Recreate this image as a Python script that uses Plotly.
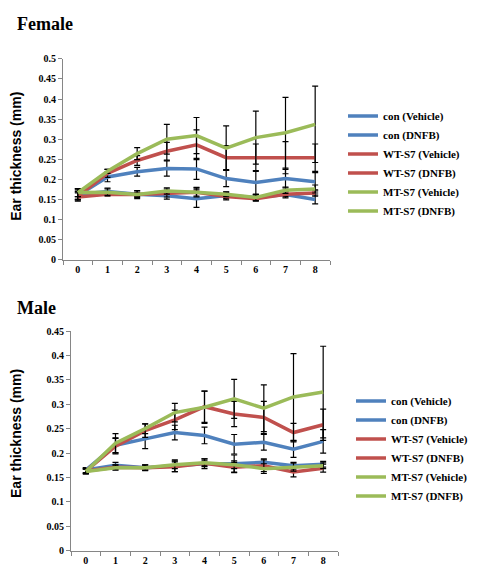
import plotly.graph_objects as go

days = ["0", "1", "2", "3", "4", "5", "6", "7", "8"]
series_names = ["con (Vehicle)", "con (DNFB)", "WT-S7 (Vehicle)", "WT-S7 (DNFB)", "MT-S7 (Vehicle)", "MT-S7 (DNFB)"]
series_colors = ["#4F81BD", "#4F81BD", "#C0504D", "#C0504D", "#9BBB59", "#9BBB59"]

# Female
f_con_veh = [0.162, 0.170, 0.163, 0.159, 0.152, 0.160, 0.155, 0.162, 0.150]
f_con_dnfb = [0.160, 0.206, 0.219, 0.227, 0.226, 0.202, 0.192, 0.202, 0.194]
f_wt_veh = [0.156, 0.163, 0.162, 0.166, 0.168, 0.157, 0.152, 0.163, 0.166]
f_wt_dnfb = [0.158, 0.215, 0.247, 0.270, 0.286, 0.254, 0.254, 0.254, 0.254]
f_mt_veh = [0.167, 0.168, 0.162, 0.171, 0.168, 0.163, 0.155, 0.173, 0.176]
f_mt_dnfb = [0.167, 0.220, 0.264, 0.300, 0.309, 0.278, 0.304, 0.316, 0.337]

f_con_veh_err = [0.012, 0.008, 0.008, 0.008, 0.022, 0.008, 0.007, 0.008, 0.011]
f_con_dnfb_err = [0.010, 0.012, 0.011, 0.019, 0.026, 0.020, 0.030, 0.023, 0.023]
f_wt_veh_err = [0.010, 0.005, 0.005, 0.010, 0.010, 0.008, 0.006, 0.006, 0.008]
f_wt_dnfb_err = [0.010, 0.010, 0.012, 0.022, 0.037, 0.030, 0.034, 0.040, 0.034]
f_mt_veh_err = [0.010, 0.008, 0.010, 0.008, 0.012, 0.006, 0.008, 0.008, 0.010]
f_mt_dnfb_err = [0.010, 0.005, 0.015, 0.037, 0.045, 0.055, 0.066, 0.088, 0.095]

# Male
m_con_veh = [0.165, 0.175, 0.170, 0.174, 0.178, 0.178, 0.181, 0.174, 0.177]
m_con_dnfb = [0.165, 0.216, 0.229, 0.242, 0.236, 0.218, 0.222, 0.208, 0.224]
m_wt_veh = [0.163, 0.171, 0.170, 0.172, 0.179, 0.171, 0.174, 0.161, 0.169]
m_wt_dnfb = [0.163, 0.214, 0.246, 0.268, 0.295, 0.280, 0.273, 0.242, 0.258]
m_mt_veh = [0.162, 0.170, 0.170, 0.176, 0.180, 0.176, 0.168, 0.171, 0.174]
m_mt_dnfb = [0.162, 0.220, 0.250, 0.283, 0.294, 0.311, 0.292, 0.315, 0.325]

m_con_veh_err = [0.005, 0.006, 0.006, 0.012, 0.010, 0.018, 0.007, 0.007, 0.006]
m_con_dnfb_err = [0.005, 0.015, 0.020, 0.015, 0.017, 0.020, 0.016, 0.017, 0.024]
m_wt_veh_err = [0.005, 0.005, 0.005, 0.010, 0.005, 0.010, 0.012, 0.010, 0.008]
m_wt_dnfb_err = [0.005, 0.016, 0.014, 0.020, 0.032, 0.026, 0.033, 0.019, 0.032]
m_mt_veh_err = [0.005, 0.005, 0.005, 0.008, 0.008, 0.008, 0.010, 0.008, 0.006]
m_mt_dnfb_err = [0.005, 0.020, 0.010, 0.019, 0.033, 0.040, 0.048, 0.089, 0.094]

female_vals = [f_con_veh, f_con_dnfb, f_wt_veh, f_wt_dnfb, f_mt_veh, f_mt_dnfb]
female_errs = [f_con_veh_err, f_con_dnfb_err, f_wt_veh_err, f_wt_dnfb_err, f_mt_veh_err, f_mt_dnfb_err]
male_vals = [m_con_veh, m_con_dnfb, m_wt_veh, m_wt_dnfb, m_mt_veh, m_mt_dnfb]
male_errs = [m_con_veh_err, m_con_dnfb_err, m_wt_veh_err, m_wt_dnfb_err, m_mt_veh_err, m_mt_dnfb_err]

W, H = 477, 582
fig = go.Figure()

for name, col, vals, errs in zip(series_names, series_colors, female_vals, female_errs):
    fig.add_trace(go.Scatter(
        x=days, y=vals, name=name, mode="lines",
        line=dict(color=col, width=3.5),
        error_y=dict(type="data", array=errs, visible=True, color="black", thickness=1.2, width=3),
        xaxis="x", yaxis="y", legend="legend",
    ))
for name, col, vals, errs in zip(series_names, series_colors, male_vals, male_errs):
    fig.add_trace(go.Scatter(
        x=days, y=vals, name=name, mode="lines",
        line=dict(color=col, width=3.5),
        error_y=dict(type="data", array=errs, visible=True, color="black", thickness=1.2, width=3),
        xaxis="x2", yaxis="y2", legend="legend2",
    ))

SERIF = "Times New Roman, Liberation Serif, serif"
SANS = "Arial, Liberation Sans, sans-serif"
tickfont = dict(family=SERIF, size=10, color="black", weight="bold")
axis_common = dict(showline=True, linecolor="#868686", linewidth=1, ticks="outside",
                   ticklen=4, tickcolor="#868686", showgrid=False, zeroline=False,
                   tickfont=tickfont)

def px_x(p):
    return p / W

def px_y(p):
    return 1 - p / H

legend_font = dict(family=SERIF, size=11, color="black", weight="bold")

fig.update_layout(
    width=W, height=H,
    margin=dict(l=0, r=0, t=0, b=0),
    paper_bgcolor="white", plot_bgcolor="white",
    xaxis=dict(domain=[px_x(63), px_x(330)], anchor="y", type="category",
               range=[-0.5, 8.5], tickson="boundaries", **axis_common),
    yaxis=dict(domain=[px_y(259), px_y(54)], anchor="x", range=[0, 0.5],
               dtick=0.05, **axis_common),
    xaxis2=dict(domain=[px_x(71), px_x(338)], anchor="y2", type="category",
                range=[-0.5, 8.5], tickson="boundaries", **axis_common),
    yaxis2=dict(domain=[px_y(556), px_y(332)], anchor="x2", range=[0, 0.45],
                dtick=0.05, **axis_common),
    legend=dict(x=px_x(343), y=px_y(97.5), xanchor="left", yanchor="top",
                bgcolor="rgba(0,0,0,0)", font=legend_font, tracegroupgap=0),
    legend2=dict(x=px_x(351), y=px_y(388.5), xanchor="left", yanchor="top",
                 bgcolor="rgba(0,0,0,0)", font=legend_font, tracegroupgap=0),
    showlegend=True,
)

annots = [
    dict(text="Female", x=px_x(15), y=px_y(18), xanchor="left", yanchor="middle",
         font=dict(family=SERIF, size=18, color="black", weight="bold")),
    dict(text="Male", x=px_x(15), y=px_y(308), xanchor="left", yanchor="middle",
         font=dict(family=SERIF, size=18, color="black", weight="bold")),
    dict(text="Ear thickness (mm)", x=px_x(16), y=px_y(154), xanchor="center", yanchor="middle",
         textangle=-90, font=dict(family=SANS, size=14, color="black", weight="bold")),
    dict(text="Ear thickness (mm)", x=px_x(16), y=px_y(437), xanchor="center", yanchor="middle",
         textangle=-90, font=dict(family=SANS, size=14, color="black", weight="bold")),
]
for a in annots:
    fig.add_annotation(xref="paper", yref="paper", showarrow=False, **a)

fig.write_html("out.html", config={"displayModeBar": False},
               post_script="document.body.style.margin='0';")
